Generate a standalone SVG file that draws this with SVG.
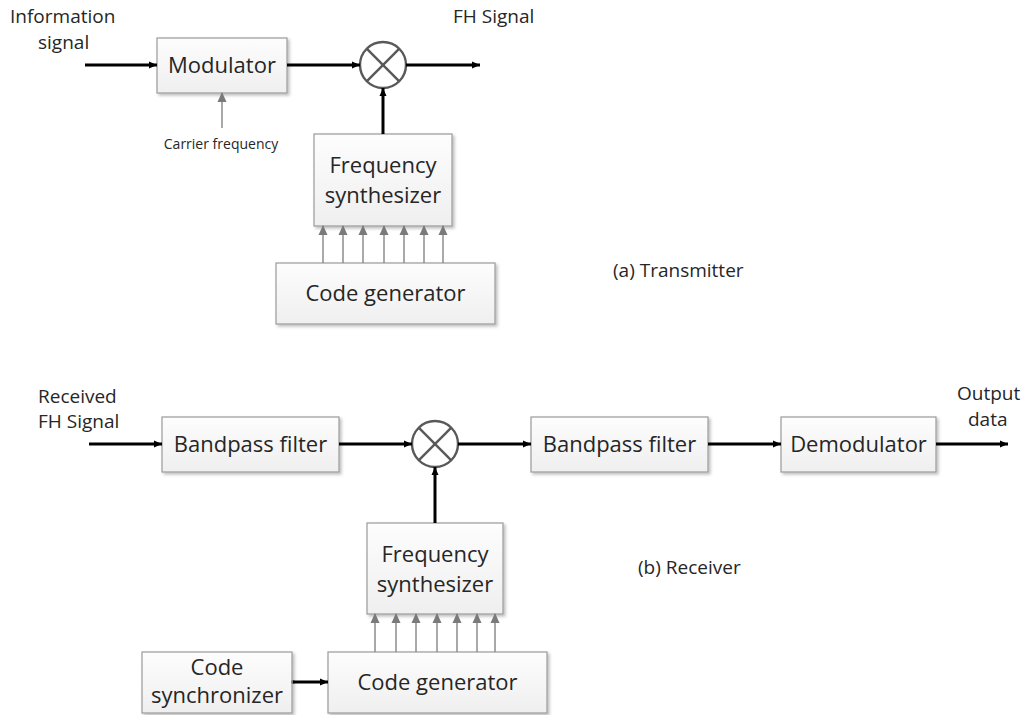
<svg xmlns="http://www.w3.org/2000/svg" width="1027" height="715" viewBox="0 0 1027 715">
  <defs>
    <linearGradient id="boxFill" x1="0" y1="0" x2="0" y2="1">
      <stop offset="0" stop-color="#fdfdfd"/>
      <stop offset="1" stop-color="#efefef"/>
    </linearGradient>
    <filter id="shadow" x="-10%" y="-10%" width="130%" height="140%">
      <feDropShadow dx="2" dy="2" stdDeviation="1.5" flood-color="#000" flood-opacity="0.25"/>
    </filter>
    <marker id="arrowBlack" markerUnits="userSpaceOnUse" markerWidth="10" markerHeight="10" viewBox="0 0 10 10" refX="9" refY="5" orient="auto">
      <path d="M1,1.5 L9,5 L1,8.5 Z" fill="#000"/>
    </marker>
    <marker id="arrowGray" markerUnits="userSpaceOnUse" markerWidth="10" markerHeight="12" viewBox="0 0 10 12" refX="9" refY="6" orient="auto">
      <path d="M0,1.5 L10,6 L0,10.5 Z" fill="#7a7a7a"/>
    </marker>
  </defs>
  <style>
    .box { fill: url(#boxFill); stroke: #9a9a9a; stroke-width: 1.2; filter: url(#shadow); }
    .boxText { font-family: "Open Sans", "Liberation Sans", sans-serif; font-size: 22px; fill: #262626; text-anchor: middle; }
    .label { font-family: "Open Sans", "Liberation Sans", sans-serif; font-size: 19px; fill: #262626; }
    .small { font-family: "Open Sans", "Liberation Sans", sans-serif; font-size: 14px; fill: #262626; text-anchor: middle; }
    .thick { stroke: #000; stroke-width: 3; fill: none; marker-end: url(#arrowBlack); }
    .thin { stroke: #8c8c8c; stroke-width: 1.5; fill: none; marker-end: url(#arrowGray); }
    .mixer { fill: #fff; stroke: #595959; stroke-width: 2.4; }
    .cross { stroke: #595959; stroke-width: 2.4; }
  </style>

  <rect width="1027" height="715" fill="#fff"/>

  <!-- Transmitter -->
  <g id="tx-modulator">
    <rect class="box" x="157" y="38" width="130" height="55"/>
    <text class="boxText" x="222" y="73">Modulator</text>
  </g>
  <g id="tx-mixer">
    <circle class="mixer" cx="383" cy="65" r="23"/>
    <line class="cross" x1="366.7" y1="48.7" x2="399.3" y2="81.3"/>
    <line class="cross" x1="399.3" y1="48.7" x2="366.7" y2="81.3"/>
  </g>
  <g id="tx-synth">
    <rect class="box" x="314" y="134" width="138" height="92"/>
    <text class="boxText" x="383" y="173">Frequency</text>
    <text class="boxText" x="383" y="203">synthesizer</text>
  </g>
  <g id="tx-codegen">
    <rect class="box" x="276" y="263" width="219" height="61"/>
    <text class="boxText" x="385.5" y="301">Code generator</text>
  </g>

  <!-- Receiver -->
  <g id="rx-bpf1">
    <rect class="box" x="162" y="417" width="177" height="55"/>
    <text class="boxText" x="250.5" y="452">Bandpass filter</text>
  </g>
  <g id="rx-mixer">
    <circle class="mixer" cx="435" cy="444" r="23"/>
    <line class="cross" x1="418.7" y1="427.7" x2="451.3" y2="460.3"/>
    <line class="cross" x1="451.3" y1="427.7" x2="418.7" y2="460.3"/>
  </g>
  <g id="rx-bpf2">
    <rect class="box" x="531" y="417" width="177" height="55"/>
    <text class="boxText" x="619.5" y="452">Bandpass filter</text>
  </g>
  <g id="rx-demod">
    <rect class="box" x="781" y="417" width="155" height="55"/>
    <text class="boxText" x="858.5" y="452">Demodulator</text>
  </g>
  <g id="rx-synth">
    <rect class="box" x="367" y="523" width="136" height="91"/>
    <text class="boxText" x="435" y="562">Frequency</text>
    <text class="boxText" x="435" y="592">synthesizer</text>
  </g>
  <g id="rx-codegen">
    <rect class="box" x="328" y="652" width="219" height="61"/>
    <text class="boxText" x="437.5" y="690">Code generator</text>
  </g>
  <g id="rx-codesync">
    <rect class="box" x="142" y="652" width="150" height="61"/>
    <text class="boxText" x="217" y="675">Code</text>
    <text class="boxText" x="217" y="703">synchronizer</text>
  </g>

  <!-- Connectors -->
  <g id="connectors">
    <!-- transmitter chain -->
    <line class="thick" x1="85" y1="65" x2="157" y2="65"/>
    <line class="thick" x1="287" y1="65" x2="360" y2="65"/>
    <line class="thick" x1="406" y1="65" x2="480" y2="65"/>
    <line class="thick" x1="383" y1="134" x2="383" y2="88"/>
    <line class="thin" x1="222" y1="128" x2="222" y2="93"/>
    <line class="thin" x1="323" y1="263" x2="323" y2="226"/>
    <line class="thin" x1="343" y1="263" x2="343" y2="226"/>
    <line class="thin" x1="363" y1="263" x2="363" y2="226"/>
    <line class="thin" x1="384" y1="263" x2="384" y2="226"/>
    <line class="thin" x1="404" y1="263" x2="404" y2="226"/>
    <line class="thin" x1="424" y1="263" x2="424" y2="226"/>
    <line class="thin" x1="443" y1="263" x2="443" y2="226"/>

    <!-- receiver chain -->
    <line class="thick" x1="89" y1="444" x2="162" y2="444"/>
    <line class="thick" x1="339" y1="444" x2="412" y2="444"/>
    <line class="thick" x1="458" y1="444" x2="531" y2="444"/>
    <line class="thick" x1="708" y1="444" x2="781" y2="444"/>
    <line class="thick" x1="936" y1="444" x2="1008" y2="444"/>
    <line class="thick" x1="435" y1="523" x2="435" y2="467"/>
    <circle cx="293" cy="682" r="2" fill="#7a7a7a"/>
    <line class="thick" x1="293" y1="682" x2="328" y2="682"/>
    <line class="thin" x1="375" y1="652" x2="375" y2="614"/>
    <line class="thin" x1="396" y1="652" x2="396" y2="614"/>
    <line class="thin" x1="416" y1="652" x2="416" y2="614"/>
    <line class="thin" x1="437" y1="652" x2="437" y2="614"/>
    <line class="thin" x1="457" y1="652" x2="457" y2="614"/>
    <line class="thin" x1="477" y1="652" x2="477" y2="614"/>
    <line class="thin" x1="495" y1="652" x2="495" y2="614"/>
  </g>

  <!-- Free labels -->
  <text class="label" x="10" y="23">Information</text>
  <text class="label" x="38" y="49">signal</text>
  <text class="label" x="453" y="23">FH Signal</text>
  <text class="small" x="221" y="149">Carrier frequency</text>
  <text class="label" x="613" y="277">(a) Transmitter</text>
  <text class="label" x="38" y="403">Received</text>
  <text class="label" x="38" y="428">FH Signal</text>
  <text class="label" x="957" y="400">Output</text>
  <text class="label" x="968" y="426">data</text>
  <text class="label" x="638" y="574">(b) Receiver</text>
</svg>
